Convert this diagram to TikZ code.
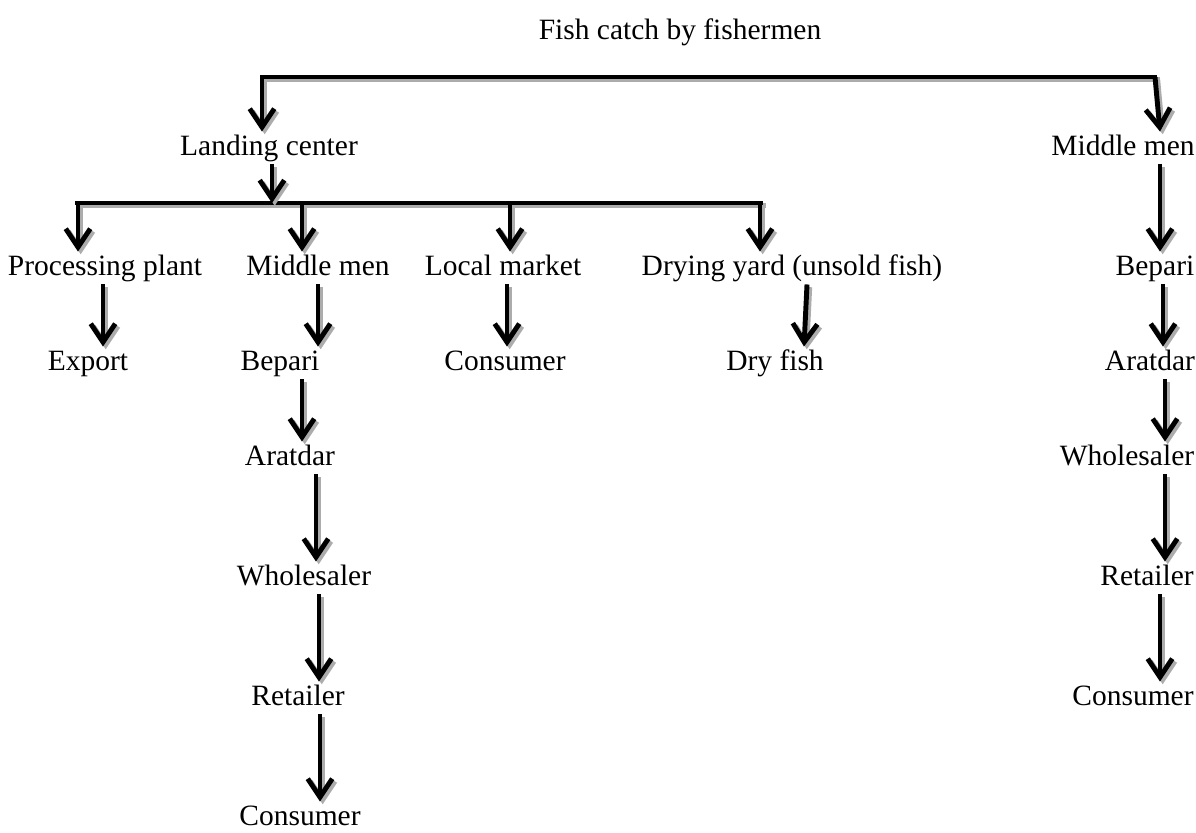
\documentclass[tikz,border=0pt,12pt]{standalone}
\usepackage{fontspec}
\setmainfont{Liberation Serif}
\usetikzlibrary{arrows.meta}

\begin{document}
\begin{tikzpicture}[x=0.407pt,y=-0.407pt,
  lbl/.style={inner sep=1pt,text height=8.5pt,text depth=2.5pt},
  shade/.style={line width=2pt,preaction={draw=gray!65,line width=2pt,transform canvas={shift={(1.1pt,-1.1pt)}}}},
  flow/.style={shade,-{Straight Barb[length=7.5pt,width=10pt,line width=2pt]}}]
\useasboundingbox (0,0) rectangle (1196,832);

\node[lbl] (catch) at (680,32) {Fish catch by fishermen};
\node[lbl] (land) at (269,148) {Landing center};
\node[lbl] (mmR) at (1123,148) {Middle men};

\node[lbl] (proc) at (105,268) {Processing plant};
\node[lbl] (mmL) at (318,268) {Middle men};
\node[lbl] (locm) at (503,268) {Local market};
\node[lbl] (dryy) at (792,268) {Drying yard (unsold fish)};

\node[lbl] (expo) at (88,363) {Export};
\node[lbl] (bepL) at (280,363) {Bepari};
\node[lbl] (consM) at (505,363) {Consumer};
\node[lbl] (dryf) at (775,363) {Dry fish};

\node[lbl] (aratL) at (290,458) {Aratdar};
\node[lbl] (wholL) at (304,578) {Wholesaler};
\node[lbl] (retL) at (298,698) {Retailer};
\node[lbl] (consL) at (300,818) {Consumer};

\node[lbl] (bepR) at (1155,268) {Bepari};
\node[lbl] (aratR) at (1150,363) {Aratdar};
\node[lbl] (wholR) at (1127,458) {Wholesaler};
\node[lbl] (retR) at (1147,578) {Retailer};
\node[lbl] (consR) at (1133,698) {Consumer};

% bars
\coordinate (barA1) at (260,77);
\coordinate (barA2) at (1157,77);
\coordinate (barB1) at (75,203);
\coordinate (barB2) at (763,203);
\draw[shade] (barA1) -- (barA2);
\draw[shade] (barB1) -- (barB2);

\draw[flow] (barA1 -| 262,0) -- (land.north -| 262,0);
\draw[flow] (barA2 -| 1155,0) -- (mmR.north -| 1160,0);
\draw[flow] (land.south -| 272,0) -- (barB1 -| 272,0);
\draw[flow] (barB1 -| 78,0) -- (proc.north -| 78,0);
\draw[flow] (barB1 -| 302,0) -- (mmL.north -| 302,0);
\draw[flow] (barB1 -| 510,0) -- (locm.north -| 510,0);
\draw[flow] (barB2 -| 760,0) -- (dryy.north -| 760,0);

\draw[flow] (proc.south -| 103,0) -- (expo.north -| 103,0);
\draw[flow] (mmL.south -| 318,0) -- (bepL.north -| 318,0);
\draw[flow] (locm.south -| 507,0) -- (consM.north -| 507,0);
\draw[flow] (dryy.south -| 807,0) -- (dryf.north -| 804,0);

\draw[flow] (bepL.south -| 302,0) -- (aratL.north -| 302,0);
\draw[flow] (aratL.south -| 316,0) -- (wholL.north -| 316,0);
\draw[flow] (wholL.south -| 319,0) -- (retL.north -| 319,0);
\draw[flow] (retL.south -| 320,0) -- (consL.north -| 320,0);

\draw[flow] (mmR.south -| 1160,0) -- (bepR.north -| 1160,0);
\draw[flow] (bepR.south -| 1163,0) -- (aratR.north -| 1163,0);
\draw[flow] (aratR.south -| 1165,0) -- (wholR.north -| 1165,0);
\draw[flow] (wholR.south -| 1165,0) -- (retR.north -| 1165,0);
\draw[flow] (retR.south -| 1160,0) -- (consR.north -| 1160,0);
\end{tikzpicture}
\end{document}
